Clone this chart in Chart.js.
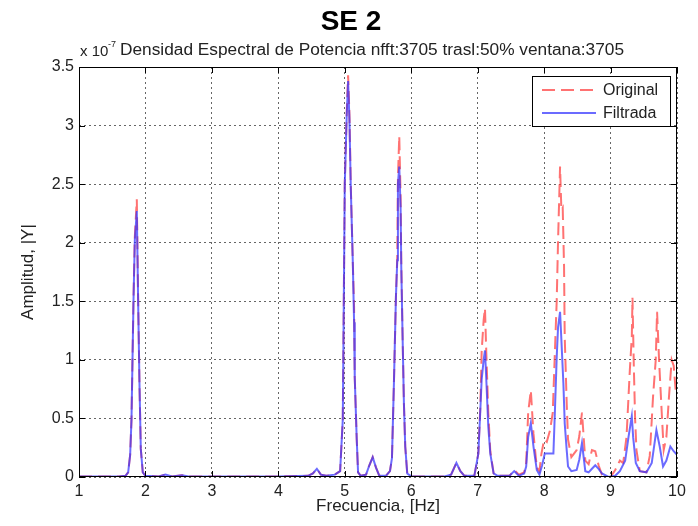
<!DOCTYPE html>
<html>
<head>
<meta charset="utf-8">
<script src="https://cdn.jsdelivr.net/npm/chart.js@4.4.1/dist/chart.umd.min.js"></script>
<style>
  html, body { margin: 0; padding: 0; background: #fff; }
  #wrap { width: 698px; height: 526px; }
</style>
</head>
<body>
<div id="wrap"><canvas id="psd" width="698" height="526"></canvas></div>
<script>
// PSD amplitudes, in units of 1e-7 (see the "x 10^-7" label)
const origFreq = [1.00, 1.60, 1.70, 1.74, 1.77, 1.79, 1.82, 1.84, 1.87, 1.89, 1.91, 1.93, 1.96, 2.00,
    2.20, 2.30, 2.40, 2.55, 2.65, 3.00, 4.00, 4.45, 4.52, 4.58, 4.64, 4.72, 4.85, 4.93,
    4.97, 4.98, 5.00, 5.03, 5.05, 5.07, 5.09, 5.12, 5.14, 5.15, 5.18, 5.20, 5.24,
    5.32, 5.37, 5.42, 5.47, 5.52, 5.62, 5.68, 5.71, 5.74, 5.77, 5.79, 5.80, 5.82, 5.84,
    5.85, 5.87, 5.89, 5.91, 5.94, 6.00, 6.50, 6.60, 6.68, 6.74, 6.80, 6.95,
    7.01, 7.04, 7.06, 7.09, 7.11, 7.13, 7.16, 7.19, 7.24, 7.30, 7.48, 7.55, 7.62,
    7.70, 7.73, 7.76, 7.80, 7.84, 7.89, 7.93, 7.96, 8.00, 8.04, 8.09, 8.13,
    8.16, 8.19, 8.21, 8.24, 8.26, 8.28, 8.30, 8.31, 8.34, 8.36, 8.41, 8.45, 8.49,
    8.53, 8.57, 8.62, 8.67, 8.72, 8.77, 8.82, 8.87, 8.93, 9.00, 9.07, 9.14, 9.19,
    9.24, 9.29, 9.32, 9.33, 9.35, 9.37, 9.39, 9.44, 9.54, 9.59, 9.64, 9.68, 9.70,
    9.73, 9.77, 9.80, 9.84, 9.88, 9.92, 9.95, 9.98, 10.00];
const origAmp = [0.005, 0.005, 0.01, 0.04, 0.19, 0.49, 1.52, 2.05, 2.37, 1.52, 0.80, 0.24, 0.04, 0.01,
    0.005, 0.02, 0.005, 0.015, 0.005, 0.005, 0.005, 0.01, 0.03, 0.07, 0.02, 0.01, 0.02, 0.05,
    0.49, 1.14, 2.52, 3.13, 3.43, 3.10, 2.50, 1.85, 1.45, 0.85, 0.32, 0.04, 0.01,
    0.02, 0.10, 0.17, 0.08, 0.01, 0.01, 0.05, 0.16, 0.81, 1.54, 1.88, 2.55, 2.91, 2.40,
    1.85, 1.20, 0.63, 0.26, 0.03, 0.005, 0.005, 0.02, 0.12, 0.05, 0.01, 0.01,
    0.20, 0.60, 1.07, 1.34, 1.44, 1.06, 0.55, 0.22, 0.03, 0.01, 0.01, 0.06, 0.02,
    0.04, 0.12, 0.55, 0.74, 0.37, 0.08, 0.05, 0.20, 0.32, 0.30, 0.40, 0.55,
    1.03, 1.51, 2.02, 2.65, 2.28, 2.30, 1.80, 1.20, 0.63, 0.32, 0.17, 0.20, 0.23,
    0.35, 0.55, 0.14, 0.11, 0.23, 0.22, 0.10, 0.02, 0.00, 0.00, 0.06, 0.14, 0.12,
    0.34, 0.91, 1.20, 1.53, 0.95, 0.49, 0.23, 0.05, 0.04, 0.18, 0.69, 1.00, 1.41,
    1.00, 0.55, 0.23, 0.34, 0.69, 1.00, 0.95, 0.74, 0.72];

const filtFreq = [1.00, 1.60, 1.70, 1.74, 1.77, 1.79, 1.82, 1.84, 1.87, 1.89, 1.91, 1.93, 1.96, 2.00,
    2.20, 2.30, 2.40, 2.55, 2.65, 3.00, 4.00, 4.45, 4.52, 4.58, 4.64, 4.72, 4.85, 4.93,
    4.97, 4.98, 5.00, 5.03, 5.05, 5.07, 5.09, 5.12, 5.14, 5.15, 5.18, 5.20, 5.24,
    5.32, 5.37, 5.42, 5.47, 5.52, 5.62, 5.68, 5.71, 5.74, 5.77, 5.79, 5.80, 5.82, 5.84,
    5.85, 5.87, 5.89, 5.91, 5.94, 6.00, 6.50, 6.60, 6.68, 6.74, 6.80, 6.95,
    7.01, 7.04, 7.06, 7.09, 7.11, 7.13, 7.16, 7.19, 7.24, 7.30, 7.48, 7.55, 7.62,
    7.70, 7.73, 7.76, 7.80, 7.84, 7.89, 7.93, 7.97, 8.01, 8.14,
    8.16, 8.19, 8.21, 8.24, 8.26, 8.29, 8.31, 8.34, 8.36, 8.41, 8.49,
    8.53, 8.57, 8.62, 8.67, 8.72, 8.77, 8.82, 8.87, 8.97, 9.07, 9.14, 9.22,
    9.27, 9.32, 9.34, 9.38, 9.44, 9.54, 9.62, 9.69, 9.74, 9.79, 9.84, 9.90, 9.95, 10.00];
const filtAmp = [0.005, 0.005, 0.01, 0.04, 0.19, 0.49, 1.50, 2.02, 2.27, 1.50, 0.80, 0.24, 0.04, 0.01,
    0.005, 0.02, 0.005, 0.015, 0.005, 0.005, 0.005, 0.01, 0.03, 0.07, 0.02, 0.01, 0.02, 0.05,
    0.49, 1.14, 2.50, 3.10, 3.38, 3.05, 2.48, 1.85, 1.32, 0.85, 0.32, 0.04, 0.01,
    0.02, 0.10, 0.17, 0.08, 0.01, 0.01, 0.05, 0.16, 0.81, 1.54, 1.85, 2.50, 2.65, 2.30,
    1.80, 1.20, 0.63, 0.26, 0.03, 0.005, 0.005, 0.02, 0.12, 0.05, 0.01, 0.01,
    0.20, 0.57, 0.83, 1.00, 1.08, 0.83, 0.43, 0.20, 0.03, 0.01, 0.01, 0.05, 0.01,
    0.03, 0.09, 0.34, 0.46, 0.26, 0.06, 0.02, 0.10, 0.20, 0.20,
    0.52, 1.03, 1.28, 1.41, 1.17, 0.80, 0.46, 0.23, 0.09, 0.05, 0.06,
    0.15, 0.29, 0.05, 0.04, 0.07, 0.10, 0.07, 0.03, 0.00, 0.01, 0.05, 0.14,
    0.34, 0.52, 0.34, 0.12, 0.05, 0.04, 0.12, 0.40, 0.26, 0.09, 0.14, 0.26, 0.22, 0.19];

const xTicks = [1, 2, 3, 4, 5, 6, 7, 8, 9, 10];
const yTicks = [0, 0.5, 1, 1.5, 2, 2.5, 3, 3.5];

const seriesNames = ['Original', 'Filtrada'];
const FONT = "'Liberation Sans', Arial, sans-serif";
const TEXT = '#222';

function toPoints(xs, ys) {
    return xs.map((x, i) => ({x: x, y: ys[i]}));
}

// box, inward ticks, legend and titles drawn over the plot
const matlabFrame = {
    id: 'matlabFrame',
    afterDatasetsDraw(chart) {
        const {ctx, chartArea: a, scales} = chart;
        ctx.save();
        ctx.strokeStyle = '#000';
        ctx.lineWidth = 1;
        ctx.setLineDash([]);
        ctx.beginPath();
        xTicks.forEach(v => {
            const px = Math.round(scales.x.getPixelForValue(v)) + 0.5;
            ctx.moveTo(px, a.bottom); ctx.lineTo(px, a.bottom - 6);
            ctx.moveTo(px, a.top); ctx.lineTo(px, a.top + 6);
        });
        yTicks.forEach(v => {
            const py = Math.round(scales.y.getPixelForValue(v)) + 0.5;
            ctx.moveTo(a.left, py); ctx.lineTo(a.left + 6, py);
            ctx.moveTo(a.right, py); ctx.lineTo(a.right - 6, py);
        });
        ctx.stroke();
        ctx.strokeRect(a.left + 0.5, a.top + 0.5, a.right - a.left - 1, a.bottom - a.top - 1);

        // legend
        const lx = 532, ly = 76, lw = 138, lh = 50;
        ctx.fillStyle = '#fff';
        ctx.fillRect(lx, ly, lw, lh);
        ctx.strokeRect(lx + 0.5, ly + 0.5, lw, lh);
        const ds = chart.data.datasets;
        [0, 1].forEach(i => {
            const yy = ly + 14 + i * 23;
            ctx.strokeStyle = ds[i].borderColor;
            ctx.lineWidth = 2;
            ctx.setLineDash(ds[i].borderDash || []);
            ctx.beginPath();
            ctx.moveTo(lx + 10, yy); ctx.lineTo(lx + 64, yy);
            ctx.stroke();
            ctx.setLineDash([]);
            ctx.fillStyle = TEXT;
            ctx.font = '16px ' + FONT;
            ctx.textAlign = 'left';
            ctx.textBaseline = 'middle';
            ctx.fillText(seriesNames[i], lx + 71, yy + 1);
        });

        // titles
        ctx.fillStyle = '#000';
        ctx.font = 'bold 28px ' + FONT;
        ctx.textAlign = 'center';
        ctx.textBaseline = 'alphabetic';
        ctx.fillText('SE 2', 351, 30);

        ctx.fillStyle = TEXT;
        ctx.font = '15px ' + FONT;
        ctx.textAlign = 'left';
        ctx.fillText('x 10', 80, 56);
        ctx.font = '9px ' + FONT;
        ctx.fillText('-7', 108, 47);
        ctx.font = '17.3px ' + FONT;
        ctx.fillText('Densidad Espectral de Potencia nfft:3705 trasl:50% ventana:3705', 120, 55);
        ctx.restore();
    }
};

new Chart(document.getElementById('psd'), {
    type: 'scatter',
    data: {
        datasets: [{
            label: seriesNames[0],
            data: toPoints(origFreq, origAmp),
            showLine: true,
            borderColor: 'rgba(255, 60, 60, 0.72)',
            borderWidth: 2,
            borderDash: [13, 6],
            pointRadius: 0,
            order: 1
        }, {
            label: seriesNames[1],
            data: toPoints(filtFreq, filtAmp),
            showLine: true,
            borderColor: 'rgba(50, 50, 255, 0.72)',
            borderWidth: 2,
            pointRadius: 0,
            order: 0
        }]
    },
    options: {
        responsive: false,
        animation: false,
        devicePixelRatio: 1,
        layout: { padding: { top: 67, right: 21, left: 0, bottom: 0 } },
        plugins: {
            legend: { display: false },
            tooltip: { enabled: false }
        },
        scales: {
            x: {
                type: 'linear',
                min: 1,
                max: 10,
                afterFit: s => { s.height = 49; },
                afterBuildTicks: s => { s.ticks = xTicks.map(v => ({value: v})); },
                grid: { color: 'rgba(0,0,0,0.6)', lineWidth: 1, drawTicks: false },
                border: { display: false, dash: [2, 3] },
                ticks: { color: TEXT, font: { family: FONT, size: 16 }, padding: 5, maxRotation: 0,
                    callback: v => String(v) },
                title: { display: true, text: 'Frecuencia, [Hz]', color: TEXT, font: { family: FONT, size: 17 },
                    padding: { top: 0, bottom: 9 } }
            },
            y: {
                type: 'linear',
                min: 0,
                max: 3.5,
                afterFit: s => { s.width = 79; },
                afterBuildTicks: s => { s.ticks = yTicks.map(v => ({value: v})); },
                grid: { color: 'rgba(0,0,0,0.6)', lineWidth: 1, drawTicks: false },
                border: { display: false, dash: [2, 3] },
                ticks: { color: TEXT, font: { family: FONT, size: 16 }, padding: 5,
                    callback: v => String(v) },
                title: { display: true, text: 'Amplitud, |Y|', color: TEXT, font: { family: FONT, size: 17 },
                    padding: { top: 18, bottom: 0 } }
            }
        }
    },
    plugins: [matlabFrame]
});
</script>
</body>
</html>
